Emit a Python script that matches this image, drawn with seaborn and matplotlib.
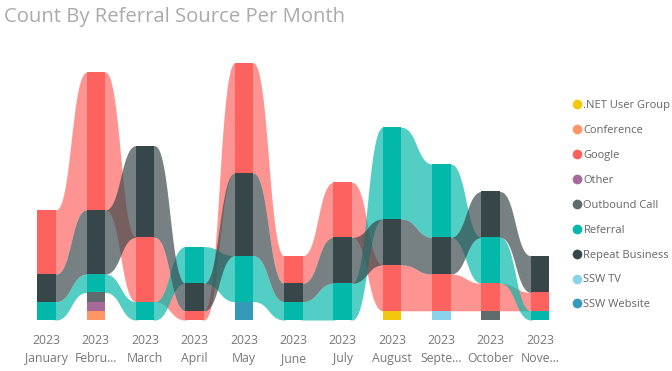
import numpy as np
import pandas as pd
import seaborn as sns
import matplotlib.pyplot as plt
from matplotlib.lines import Line2D

# data (counts per month)
months = ['January', 'Febru...', 'March', 'April', 'May', 'June', 'July',
          'August', 'Septe...', 'October', 'Nove...']
year = '2023'
categories = ['.NET User Group', 'Conference', 'Google', 'Other', 'Outbound Call',
              'Referral', 'Repeat Business', 'SSW TV', 'SSW Website']
net_user_group = [0, 0, 0, 0, 0, 0, 0, 1, 0, 0, 0]
conference = [0, 1, 0, 0, 0, 0, 0, 0, 0, 0, 0]
google = [7, 15, 7, 1, 12, 3, 6, 5, 4, 3, 2]
other = [0, 1, 0, 0, 0, 0, 0, 0, 0, 0, 0]
outbound_call = [0, 1, 0, 0, 0, 0, 0, 0, 0, 1, 0]
referral = [2, 2, 2, 4, 5, 2, 4, 10, 8, 5, 1]
repeat_business = [3, 7, 10, 3, 9, 2, 5, 5, 4, 5, 4]
ssw_tv = [0, 0, 0, 0, 0, 0, 0, 0, 1, 0, 0]
ssw_website = [0, 0, 0, 0, 2, 0, 0, 0, 0, 0, 0]

colors = ['#F2C80F', '#FE9666', '#FD625E', '#A66999', '#5F6B6D',
          '#01B8AA', '#374649', '#8AD4EB', '#3599B8']

df = pd.DataFrame(dict(zip(categories, [net_user_group, conference, google, other,
                                        outbound_call, referral, repeat_business,
                                        ssw_tv, ssw_website])))
pal = dict(zip(categories, colors))

sns.set_theme(style='white')
plt.rcParams['font.family'] = ['Open Sans', 'DejaVu Sans']

fig = plt.figure(figsize=(6.72, 3.71), dpi=100)
ax = fig.add_axes([0.0325, 0.1375, 0.8078, 0.6927])

bw = 0.375
# stack: smallest at the bottom, ties alphabetical from the bottom
spans = []
for i in range(len(months)):
    row = df.iloc[i]
    order = sorted([c for c in categories if row[c] > 0], key=lambda c: row[c])
    b = 0
    s = {}
    for c in order:
        s[c] = (b, b + row[c])
        ax.bar(i, row[c], bottom=b, width=bw, color=pal[c], linewidth=0, zorder=3)
        b += row[c]
    spans.append(s)

# ribbons between neighbouring months (start a bit under the bars to avoid seams)
t = np.linspace(0, 1, 80)
for i in range(len(months) - 1):
    x0, x1 = i + bw / 2, i + 1 - bw / 2
    xm = (x0 + x1) / 2
    x = (1 - t) ** 3 * x0 + 3 * (1 - t) ** 2 * t * xm + 3 * (1 - t) * t ** 2 * xm + t ** 3 * x1
    sm = 3 * t ** 2 - 2 * t ** 3
    x = np.concatenate([[x0 - 0.03], x, [x1 + 0.03]])
    sm = np.concatenate([[0], sm, [1]])
    for c in categories:
        if c in spans[i] and c in spans[i + 1]:
            b0, t0 = spans[i][c]
            b1, t1 = spans[i + 1][c]
            ax.fill_between(x, b0 + (b1 - b0) * sm, t0 + (t1 - t0) * sm,
                            color=pal[c], alpha=0.68, linewidth=0, zorder=2)

ax.set_xlim(-0.5, len(months) - 0.5)
ax.set_ylim(0, 28)
ax.set_yticks([])
ax.set_xticks(range(len(months)))
ax.set_xticklabels([f'{year}\n{m}' for m in months], color='#777777',
                   fontsize=8.8, linespacing=1.5)
ax.tick_params(axis='x', length=0, pad=10)
sns.despine(ax=ax, left=True, bottom=True)

fig.text(0.006, 0.955, 'Count By Referral Source Per Month', fontsize=14.6,
         color='#aaaaaa', va='center', ha='left')

handles = [Line2D([], [], marker='o', linestyle='', markersize=7, color=pal[c],
                  markeredgewidth=0) for c in categories]
fig.legend(handles, categories, loc='upper left', bbox_to_anchor=(0.85, 0.73),
           frameon=False, fontsize=8, labelcolor='#666666', handletextpad=0.1,
           handlelength=1.0, labelspacing=1.25, borderpad=0, borderaxespad=0)

fig.savefig('out.png', dpi=100)
